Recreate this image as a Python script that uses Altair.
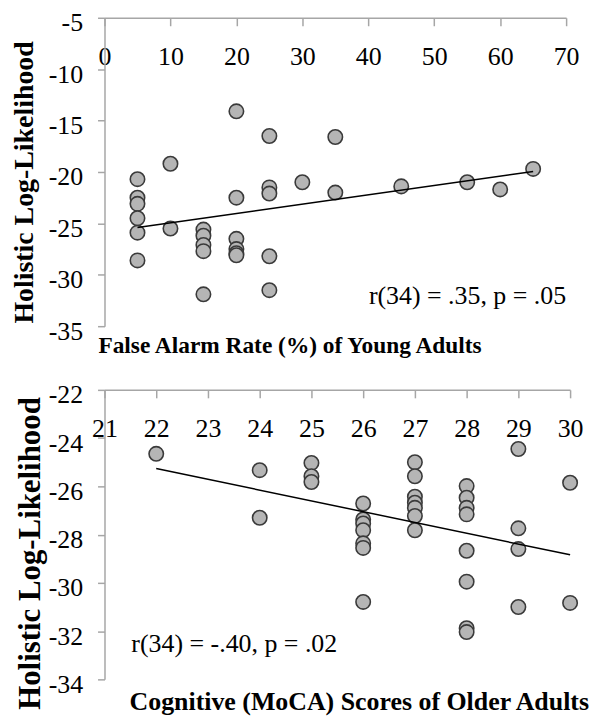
import altair as alt
import pandas as pd

FONT = "Liberation Serif"

# Top panel: False alarm rate (%) of young adults vs holistic log-likelihood
fa_x = [5, 5, 5, 5, 5, 5,
        10, 10,
        15, 15, 15, 15, 15,
        20, 20, 20, 20, 20, 20,
        25, 25, 25, 25, 25,
        30,
        35, 35,
        45, 55, 60, 65]
fa_y = [-20.7, -22.5, -23.1, -24.5, -25.9, -28.6,
        -19.2, -25.5,
        -25.6, -26.2, -27.1, -27.7, -31.9,
        -14.1, -22.5, -26.5, -27.5, -27.9, -28.1,
        -16.5, -21.5, -22.1, -28.2, -31.5,
        -21.0,
        -16.6, -22.0,
        -21.4, -21.0, -21.7, -19.7]
fa_xticks = [0, 10, 20, 30, 40, 50, 60, 70]
fa_yticks = [-35, -30, -25, -20, -15, -10, -5]
fa_note = "r(34) = .35, p = .05"
fa_xtitle = "False Alarm Rate (%) of Young Adults"

# Bottom panel: MoCA scores of older adults vs holistic log-likelihood
moca_x = [22,
          24, 24,
          25, 25, 25,
          26, 26, 26, 26, 26, 26, 26,
          27, 27, 27, 27, 27, 27, 27,
          28, 28, 28, 28, 28, 28, 28, 28,
          29, 29, 29, 29,
          30, 30]
moca_y = [-24.65,
          -25.33, -27.3,
          -25.03, -25.58, -25.82,
          -26.71, -27.37, -27.54, -27.82, -28.36, -28.55, -30.79,
          -25.0, -25.58, -26.43, -26.68, -26.89, -27.23, -27.82,
          -25.99, -26.47, -26.89, -27.16, -28.67, -29.95, -31.88, -32.04,
          -24.45, -27.74, -28.6, -31.0,
          -25.85, -30.83]
moca_xticks = [21, 22, 23, 24, 25, 26, 27, 28, 29, 30]
moca_yticks = [-34, -32, -30, -28, -26, -24, -22]
moca_note = "r(34) = -.40, p = .02"
moca_xtitle = "Cognitive (MoCA) Scores of Older Adults"

YTITLE = "Holistic Log-Likelihood"
LABEL_EXPR = "'' + datum.value"


def panel(xs, ys, xdom, xticks, ydom, yticks, w, h, note, note_x, note_y,
          note_align, lab_size, ytitle_size, ytitle_x, ytitle_y,
          xtitle, xtitle_size, xtitle_x, xtitle_y, xtitle_align):
    df = pd.DataFrame({"x": xs, "y": ys})
    x_enc = alt.X("x:Q",
                  scale=alt.Scale(domain=xdom, nice=False, zero=False),
                  axis=alt.Axis(orient="bottom", offset=-h, values=xticks,
                                title=None, tickSize=8, labelPadding=18,
                                labelFlush=False, labelOverlap=False,
                                labelFontSize=lab_size, labelFont=FONT,
                                labelExpr=LABEL_EXPR))
    y_enc = alt.Y("y:Q",
                  scale=alt.Scale(domain=ydom, nice=False, zero=False),
                  axis=alt.Axis(values=yticks, title=YTITLE, tickSize=7,
                                labelPadding=15, labelFontSize=lab_size,
                                labelOffset=5, labelFont=FONT,
                                labelExpr=LABEL_EXPR, titleFont=FONT,
                                titleFontSize=ytitle_size, titleX=ytitle_x,
                                titleY=ytitle_y, titleBaseline="alphabetic",
                                titleFontWeight="bold"))
    pts = alt.Chart(df).mark_circle(size=210, fill="#b5b5b5", stroke="#3a3a3a",
                                    strokeWidth=1.6, opacity=1).encode(x=x_enc, y=y_enc)
    line = alt.Chart(df).mark_line(color="black", strokeWidth=1.5).transform_regression(
        "x", "y").encode(x=x_enc, y=y_enc)
    txt = alt.Chart(pd.DataFrame({"t": [note]})).mark_text(
        align=note_align, baseline="middle", font=FONT, fontSize=26,
        color="black").encode(x=alt.value(note_x), y=alt.value(note_y), text="t:N")
    xt = alt.Chart(pd.DataFrame({"t": [xtitle]})).mark_text(
        align=xtitle_align, baseline="alphabetic", font=FONT, fontSize=xtitle_size,
        fontWeight="bold", color="black").encode(
        x=alt.value(xtitle_x), y=alt.value(xtitle_y), text="t:N")
    return alt.layer(pts, line, txt, xt).properties(width=w, height=h)


top = panel(fa_x, fa_y, [0, 70], fa_xticks, [-35, -5], fa_yticks, 464, 310,
            fa_note, 464, 280, "right", 26, 28, -72, 165,
            fa_xtitle, 23.5, 186.5, 337, "center")
bottom = panel(moca_x, moca_y, [21, 30], moca_xticks, [-34, -22], moca_yticks, 468, 291,
               moca_note, 27, 255, "left", 26, 31, -65, 164,
               moca_xtitle, 26, 487, 322, "right")

chart = alt.vconcat(top, bottom, spacing=24).properties(
    padding={"left": 3, "top": 0, "right": 0, "bottom": 0}
).configure_view(stroke=None).configure_axis(
    domainColor="#a6a6a6", tickColor="#a6a6a6", domainWidth=1.5, tickWidth=1.5,
    labelColor="black", titleColor="black", grid=False)

chart.save("out.html", embed_options={"renderer": "svg", "actions": False})
